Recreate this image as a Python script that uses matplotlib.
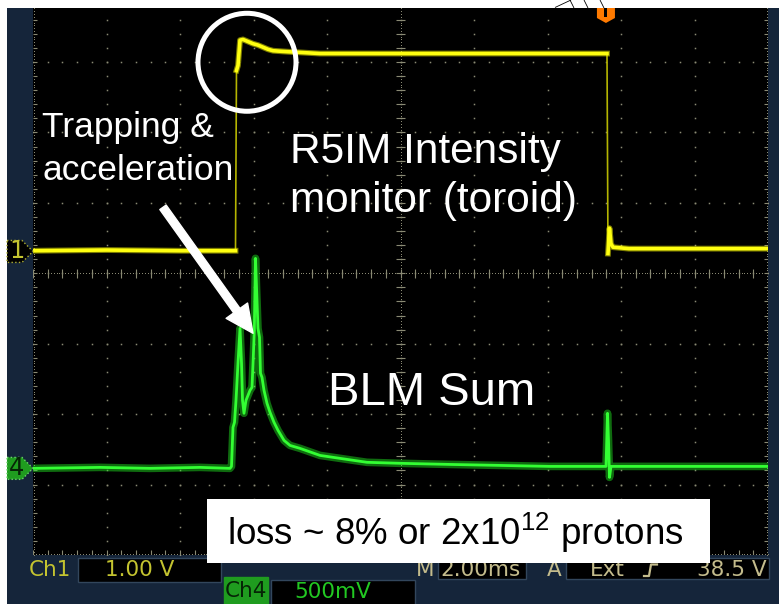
import numpy as np
import matplotlib
matplotlib.use("Agg")
import matplotlib.pyplot as plt
from matplotlib.patches import Rectangle, Polygon, Ellipse

plt.rcParams['font.family'] = ['Liberation Sans', 'DejaVu Sans']
plt.rcParams['mathtext.fontset'] = 'custom'
plt.rcParams['mathtext.rm'] = 'Liberation Sans'
plt.rcParams['mathtext.it'] = 'Liberation Sans:italic'
plt.rcParams['mathtext.bf'] = 'Liberation Sans:bold'

# ---------------- scope settings ----------------
time_per_div_ms = 2.0
ch1_volts_per_div = 1.0
ch4_volts_per_div = 0.5
ch1_position_div = 0.31
ch4_position_div = -2.77
trigger_time_ms = 15.59

# ---------------- channel 1 : R5IM intensity monitor (toroid) ----------------
ch1_time_ms = [0.0, 2.0, 4.0, 5.51, 5.537, 5.578, 5.633, 5.714, 5.85, 5.986,
               6.122, 6.259, 6.395, 6.531, 6.803, 7.129, 7.81, 10.0, 12.5, 15.619,
               15.646, 15.687, 15.728, 15.782, 16.218, 18.0, 20.0]
ch1_volts = [0.01, 0.02, 0.01, 0.01, 2.57, 2.64, 3.00, 3.01, 2.98, 2.95,
             2.93, 2.90, 2.87, 2.85, 2.84, 2.83, 2.81, 2.81, 2.81, 2.81,
             -0.03, 0.33, 0.11, 0.06, 0.04, 0.04, 0.04]

# ---------------- channel 4 : BLM sum ----------------
ch4_time_ms = [0.0, 1.823, 3.184, 4.544, 5.361, 5.401, 5.442, 5.483, 5.524, 5.578,
               5.633, 5.674, 5.701, 5.741, 5.796, 5.850, 5.905, 5.959, 5.994, 6.022,
               6.054, 6.095, 6.122, 6.163, 6.190, 6.231, 6.286, 6.367, 6.449, 6.558,
               6.667, 6.830, 6.993, 7.265, 7.810, 8.354, 9.088, 9.986, 11.347, 12.707,
               14.068, 15.592, 15.633, 15.660, 15.687, 15.728, 16.789, 18.150, 20.0]
ch4_volts = [0.000, 0.007, 0.000, 0.007, 0.000, 0.014, 0.291, 0.327, 0.483, 0.746,
             0.994, 0.746, 0.483, 0.391, 0.483, 0.518, 0.554, 0.575, 0.788, 0.980,
             1.491, 1.193, 0.994, 0.930, 0.675, 0.646, 0.554, 0.462, 0.398, 0.327,
             0.270, 0.199, 0.163, 0.142, 0.092, 0.071, 0.043, 0.036, 0.028, 0.021,
             0.014, 0.014, 0.391, 0.199, -0.064, 0.014, 0.014, 0.014, 0.014]

# ---------------- readouts / annotation texts ----------------
readout_ch1_name = "Ch1"
readout_ch1_scale = "1.00 V"
readout_ch4_name = "Ch4"
readout_ch4_scale = "500mV"
readout_time = "2.00ms"
readout_trig_src = "Ext"
readout_trig_level = "38.5 V"
label_trap = ["Trapping &", "acceleration"]
label_r5im = ["R5IM Intensity", "monitor (toroid)"]
label_blm = "BLM Sum"
label_loss = r"loss ~ 8% or 2x10$^{\mathregular{12}}$ protons"

# ---------------- figure layout (pixels) ----------------
W, H = 779, 604
fig = plt.figure(figsize=(W / 100, H / 100), dpi=100, facecolor="white")

NAVY = "#15253a"
CH1C = "#c4c430"
KHAKI = "#c4bc8c"
GRIDC = "#8a8a74"
SCOPE_FONT = "DejaVu Sans"
RFS = 15.5

bg = fig.add_axes([0, 0, 1, 1], zorder=0)
bg.set_xlim(0, W)
bg.set_ylim(H, 0)
bg.axis("off")
bg.add_patch(Rectangle((7, 8), W - 7, H - 8, fc=NAVY, ec="none"))

# top callout fragments in the white strip
for (xa, ya, xb, yb) in [(555, 7.5, 571, 0), (570, 0, 574, 8), (584, 0, 588, 8), (600, 0, 604, 8)]:
    bg.plot([xa, xb], [ya, yb], color="black", lw=0.6, solid_capstyle="butt")

# bottom readout bar
def box(x, y, w, h, fc="black", ec="#32465c"):
    bg.add_patch(Rectangle((x, y), w, h, fc=fc, ec=ec, lw=1.0))

bg.text(29, 570, readout_ch1_name, color=CH1C, fontsize=RFS, family=SCOPE_FONT, va="center", ha="left")
box(78, 558, 143, 24)
bg.text(105, 570, readout_ch1_scale, color=CH1C, fontsize=RFS, family=SCOPE_FONT, va="center", ha="left")

bg.text(416, 570, "M", color=KHAKI, fontsize=RFS, family=SCOPE_FONT, va="center", ha="left")
box(438, 558, 88, 21)
bg.text(440, 570, readout_time, color=KHAKI, fontsize=RFS, family=SCOPE_FONT, va="center", ha="left")

bg.text(547, 570, "A", color=KHAKI, fontsize=RFS, family=SCOPE_FONT, va="center", ha="left")
box(566, 558, 203, 21)
bg.text(590, 570, readout_trig_src, color=KHAKI, fontsize=RFS, family=SCOPE_FONT, va="center", ha="left")
bg.plot([644, 649, 651, 657], [576, 576, 564.5, 564.5], color=KHAKI, lw=1.6)
bg.text(767, 570, readout_trig_level, color=KHAKI, fontsize=RFS, family=SCOPE_FONT, va="center", ha="right")

box(224, 577, 44, 30, fc="#1f9c1f", ec="#1f9c1f")
bg.text(225, 591, readout_ch4_name, color="#062406", fontsize=RFS, family=SCOPE_FONT, va="center", ha="left")
box(271, 580, 144, 30)
bg.text(294, 592, readout_ch4_scale, color="#22c822", fontsize=RFS, family=SCOPE_FONT, va="center", ha="left")

# ---------------- scope screen axes ----------------
AX_L, AX_R, AX_T, AX_B = 33, 768, 8, 555
DIV_PX = 70.43
ax = fig.add_axes([AX_L / W, 1 - AX_B / H, (AX_R - AX_L) / W, (AX_B - AX_T) / H], zorder=1)
ax.set_facecolor("black")
ax.set_xlim(0, 10 * time_per_div_ms)
ax.set_ylim(-4, -4 + (AX_B - AX_T) / DIV_PX)
for s in ax.spines.values():
    s.set_visible(False)
ax.set_xticks([])
ax.set_yticks([])

tmax = 10 * time_per_div_ms
major_x = np.arange(1, 10) * time_per_div_ms
minor_x = np.arange(0, 51) * time_per_div_ms / 5
minor_y = np.arange(-20, 21) / 5
dot = dict(ls="none", marker="s", ms=1.1, mew=0, color=GRIDC)
X, Y = np.meshgrid(major_x, minor_y)
ax.plot(X.ravel(), Y.ravel(), **dot)
X, Y = np.meshgrid(minor_x, np.arange(-3, 4))
ax.plot(X.ravel(), Y.ravel(), **dot)
dense_x = np.arange(0, 251) * time_per_div_ms / 25
dense_y = np.arange(-100, 101) / 25
small = dict(ls="none", marker="s", ms=0.7, mew=0, color=GRIDC)
ax.plot(dense_x, np.zeros_like(dense_x), **small)
ax.plot(np.full_like(dense_y, tmax / 2), dense_y, **small)
ax.plot(np.full_like(dense_y, 0.03), dense_y, **small)
ax.plot(np.full_like(dense_y, tmax - 0.03), dense_y, **small)
ax.plot(dense_x, np.full_like(dense_x, -3.985), **small)
ax.vlines(minor_x, -0.06, 0.06, color=GRIDC, lw=0.8)
ax.hlines(minor_y, tmax / 2 - 0.11, tmax / 2 + 0.11, color=GRIDC, lw=0.8)
ax.hlines(minor_y, 0, 0.12, color=GRIDC, lw=0.8)
ax.hlines(minor_y, tmax - 0.12, tmax, color=GRIDC, lw=0.8)
ax.vlines(minor_x, -4, -3.93, color=GRIDC, lw=0.8)

# ---------------- traces ----------------
t1 = np.asarray(ch1_time_ms)
y1 = np.asarray(ch1_volts) / ch1_volts_per_div + ch1_position_div
ax.plot(t1, y1, color="#b4b400", lw=1.2, zorder=3)
steep = np.abs(np.diff(y1)) > 1.0
tt, yy = [t1[0]], [y1[0]]
for i in range(1, len(t1)):
    if steep[i - 1]:
        tt.append(np.nan)
        yy.append(np.nan)
    tt.append(t1[i])
    yy.append(y1[i])
ax.plot(tt, yy, color="#f4f400", lw=4.2, alpha=0.5, zorder=4, solid_joinstyle="round")
ax.plot(tt, yy, color="#ffff10", lw=2.6, zorder=4, solid_joinstyle="round")

t4 = np.asarray(ch4_time_ms)
y4 = np.asarray(ch4_volts) / ch4_volts_per_div + ch4_position_div
ax.plot(t4, y4, color="#22ee22", lw=5.5, alpha=0.45, zorder=3, solid_joinstyle="round")
ax.plot(t4, y4, color="#33ff33", lw=2.0, zorder=4, solid_joinstyle="round")

# channel ground markers (left of screen)
ytr = ax.get_yaxis_transform()
def chan_marker(pos, fc, ec, label, tc):
    hx = 0.156
    pts = [(-26 / 735, pos + hx), (-11 / 735, pos + hx), (0, pos), (-11 / 735, pos - hx), (-26 / 735, pos - hx)]
    ax.add_patch(Polygon(pts, closed=True, fc=fc, ec=ec, lw=1.0, ls=":", transform=ytr, clip_on=False, zorder=5))
    ax.text(-16 / 735, pos, label, transform=ytr, color=tc, fontsize=17.5, family=SCOPE_FONT,
            ha="center", va="center", clip_on=False, zorder=6)

chan_marker(ch1_position_div, "black", "#b0b030", "1", CH1C)
chan_marker(ch4_position_div, "#1f9c1f", "#6ad66a", "4", "#062406")

# trigger position marker (top)
xtr = ax.get_xaxis_transform()
hpx = 547.0
dw = 9 / 36.75
trig = [(trigger_time_ms - dw, 1), (trigger_time_ms + dw, 1), (trigger_time_ms + dw, 1 - 10 / hpx),
        (trigger_time_ms, 1 - 15 / hpx), (trigger_time_ms - dw, 1 - 10 / hpx)]
ax.add_patch(Polygon(trig, closed=True, fc="#ff7a00", ec="none", transform=xtr, clip_on=False, zorder=6))
ax.add_patch(Rectangle((trigger_time_ms - 1.5 / 36.75, 1 - 9 / hpx), 3 / 36.75, 9 / hpx,
                       fc="black", ec="none", transform=xtr, clip_on=False, zorder=7))

# ---------------- annotations ----------------
ax.text(0.245, 1.931, label_trap[0], color="white", fontsize=25.5, ha="left", va="baseline", zorder=8)
ax.text(0.245, 1.320, label_trap[1], color="white", fontsize=25.5, ha="left", va="baseline", zorder=8)
ax.text(6.993, 1.562, label_r5im[0], color="white", fontsize=30.5, ha="left", va="baseline", zorder=8)
ax.text(6.993, 0.866, label_r5im[1], color="white", fontsize=30.5, ha="left", va="baseline", zorder=8)
ax.text(8.027, -1.874, label_blm, color="white", fontsize=34, ha="left", va="baseline", zorder=8)

ax.add_patch(Ellipse((5.823, 2.996), 2.667, 1.391, fc="none", ec="white", lw=3.6, zorder=8, clip_on=False))

ax.annotate("", xy=(5.986, -0.852), xytext=(3.537, 0.937),
            arrowprops=dict(arrowstyle="simple,head_length=1.0,head_width=0.95,tail_width=0.28",
                            mutation_scale=20, fc="white", ec="white", shrinkA=0, shrinkB=0), zorder=8)

ax.add_patch(Rectangle((4.735, -4.118), 13.687, 0.909, fc="white", ec="none", clip_on=False, zorder=9))
ax.text(5.279, -3.862, label_loss, color="black", fontsize=26.5, ha="left", va="baseline",
        clip_on=False, zorder=10)

fig.savefig("out.png", dpi=100, facecolor=fig.get_facecolor())
